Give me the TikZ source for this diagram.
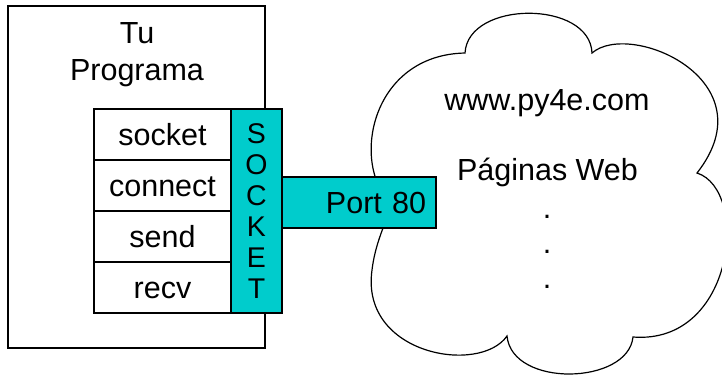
\documentclass[tikz,border=0pt]{standalone}
\usepackage{fontspec}
\setmainfont{Liberation Sans}
\definecolor{sockteal}{RGB}{0,204,204}
\tikzset{
  boxline/.style={draw=black, line width=1.1pt},
  rowbox/.style={boxline, fill=white, minimum width=137pt, minimum height=51pt, inner sep=0pt,
    text height=21.5pt, text depth=0pt, font=\fontsize{30.5}{34}\selectfont},
  tealbox/.style={boxline, fill=sockteal, inner sep=0pt},
  lbl/.style={font=\fontsize{30.5}{34}\selectfont, inner sep=0pt},
  cloudline/.style={draw=black, line width=1.2pt, fill=white}
}
\begin{document}
\begin{tikzpicture}[x=1pt, y=-1pt]
\useasboundingbox (0,0) rectangle (722,378);
% outer program box
\node[boxline, minimum width=257pt, minimum height=342pt, inner sep=0pt] (prog) at (136.5,177) {};
\node[lbl, anchor=base] (tu) at (137,43) {Tu};
\node[lbl, anchor=base] (programa) at (137,80) {Programa};
% cloud
\draw[cloudline] (392,205)
  .. controls (350,165) and (370,55) .. (465,53)
  .. controls (468,0) and (590,0) .. (592,53)
  .. controls (630,20) and (770,80) .. (697,173)
  .. controls (750,190) and (735,345) .. (633,337)
  .. controls (628,385) and (512,388) .. (507,336)
  .. controls (480,375) and (360,355) .. (372,270)
  .. controls (375,245) and (384,226) .. (392,205) -- cycle;
% rows
\node[rowbox] (socket) at (162.5,134.5) {socket};
\node[rowbox] (connect) at (162.5,185.5) {connect};
\node[rowbox] (send) at (162.5,236.5) {send};
\node[rowbox] (recv) at (162.5,287.5) {recv};
% socket bar
\node[tealbox, minimum width=51pt, minimum height=204pt, align=center,
  font=\fontsize{28.5}{31}\selectfont] (bar) at (256.5,211) {S\\O\\C\\K\\E\\T};
% port box
\node[tealbox, minimum height=51pt, text width=134pt, inner xsep=10pt, align=right,
  text height=21.5pt, text depth=0pt, font=\fontsize{30.5}{34}\selectfont] (port) at (359,202.5) {Port 80};
% cloud texts
\node[lbl, anchor=base] (www) at (547,110) {www.py4e.com};
\node[lbl, anchor=base] (paginas) at (547.5,180) {Páginas Web};
\node[lbl, align=center, font=\fontsize{30.5}{35}\selectfont] (dots) at (547,252) {.\\.\\.};
\end{tikzpicture}
\end{document}
